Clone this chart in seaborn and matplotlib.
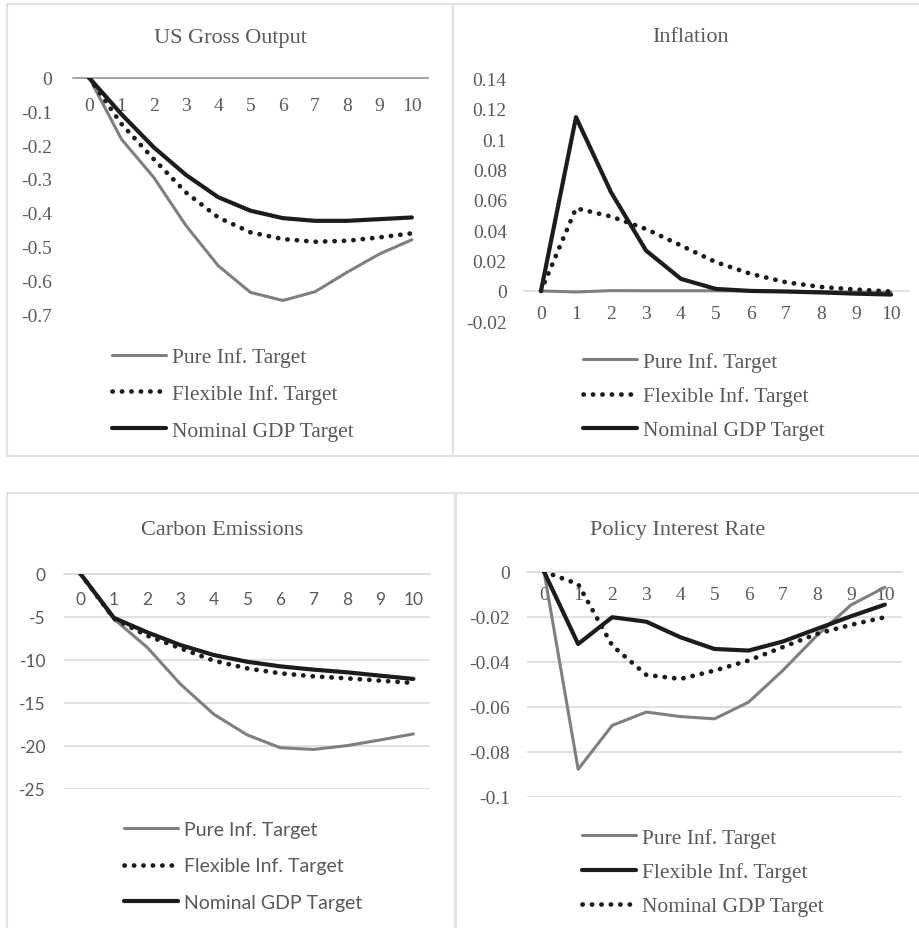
import matplotlib
matplotlib.use("Agg")
import matplotlib.pyplot as plt
from matplotlib.patches import Rectangle
from matplotlib.lines import Line2D
import seaborn as sns

# impulse responses, periods 0..10
steps = list(range(11))
labels3 = ["Pure Inf. Target", "Flexible Inf. Target", "Nominal GDP Target"]

out_pure = [0, -0.182, -0.295, -0.438, -0.557, -0.636, -0.660, -0.634, -0.576, -0.522, -0.480]
out_flex = [0, -0.137, -0.241, -0.340, -0.414, -0.458, -0.478, -0.486, -0.483, -0.473, -0.461]
out_ngdp = [0, -0.108, -0.206, -0.288, -0.354, -0.394, -0.416, -0.424, -0.424, -0.419, -0.414]

infl_pure = [0, -0.0007, 0.0002, 0.0001, 0.0001, 0.0001, 0.0, -0.0002, -0.0005, -0.0008, -0.001]
infl_flex = [0, 0.0544, 0.049, 0.0408, 0.0299, 0.0189, 0.0112, 0.0057, 0.0026, 0.0009, -0.0004]
infl_ngdp = [0, 0.1144, 0.065, 0.0266, 0.0079, 0.0013, 0.0, -0.0004, -0.001, -0.0018, -0.0024]

co2_pure = [0, -5.23, -8.53, -12.8, -16.3, -18.7, -20.2, -20.4, -19.96, -19.3, -18.6]
co2_flex = [0, -5.2, -7.17, -8.64, -10.08, -10.97, -11.55, -11.9, -12.13, -12.4, -12.67]
co2_ngdp = [0, -5.1, -6.78, -8.26, -9.42, -10.2, -10.74, -11.12, -11.43, -11.82, -12.2]

rate_pure = [0, -0.0877, -0.0682, -0.0623, -0.0643, -0.0653, -0.0579, -0.0439, -0.0284, -0.0148, -0.0069]
rate_flex = [0, -0.0321, -0.0202, -0.0222, -0.0291, -0.0343, -0.035, -0.031, -0.0254, -0.0198, -0.0146]
rate_ngdp = [0, -0.0055, -0.0328, -0.0458, -0.0476, -0.0439, -0.0394, -0.0335, -0.0276, -0.0236, -0.0202]

out_ticks = [0, -0.1, -0.2, -0.3, -0.4, -0.5, -0.6, -0.7]
infl_ticks = [-0.02, 0, 0.02, 0.04, 0.06, 0.08, 0.1, 0.12, 0.14]
co2_ticks = [0, -5, -10, -15, -20, -25]
rate_ticks = [0, -0.02, -0.04, -0.06, -0.08, -0.1]

sns.set_style("white")
plt.rcParams["font.family"] = ["Liberation Serif", "DejaVu Serif"]

W, H = 919, 929
fig = plt.figure(figsize=(W / 100, H / 100), dpi=100)

GRAY = "#7f7f7f"
BLACK = "#1c1c1c"
TXT = "#595959"
GRID = "#d9d9d9"
solid_gray = dict(color=GRAY, lw=2.2, linestyle="-")
solid_black = dict(color=BLACK, lw=3.0, linestyle="-")
dotted = dict(color=BLACK, lw=3.4, linestyle=(0, (0.05, 1.95)), dash_capstyle="round")


def box(x0, y0, x1, y1):
    fig.add_artist(Rectangle((x0 / W, 1 - y1 / H), (x1 - x0) / W, (y1 - y0) / H,
                             transform=fig.transFigure, fill=False,
                             edgecolor="#e2e2e2", lw=1.5))


def fmt(v):
    s = f"{round(v, 4):g}"
    return "0" if s == "-0" else s


def panel(left, right, top, bottom, series, styles, ticks, ylim,
          title, title_xy, legend_xy, tick_font, leg_font,
          ypad, xpad, zero_color, grid, tsize=14, lsize=15.5, lspace=0.65, hlen=2.5):
    ax = fig.add_axes([left / W, 1 - bottom / H, (right - left) / W, (bottom - top) / H])
    for vals, st, lab in zip(series, styles, labels3):
        sns.lineplot(x=steps, y=vals, ax=ax, label=lab, **st)
    ax.set_xlim(-0.5, 10.5)
    ax.set_ylim(*ylim)
    ax.set_yticks(ticks)
    ax.set_yticklabels([fmt(t) for t in ticks])
    ax.set_xticks(steps)
    ax.set_xticklabels([str(s) for s in steps])
    for sp in ["top", "left", "right"]:
        ax.spines[sp].set_visible(False)
    ax.spines["bottom"].set_position(("data", 0))
    ax.spines["bottom"].set_color(zero_color)
    ax.spines["bottom"].set_linewidth(1.1)
    ax.spines["bottom"].set_zorder(0.5)
    ax.tick_params(axis="both", length=0, colors=TXT, labelsize=tsize)
    ax.tick_params(axis="y", pad=ypad)
    ax.tick_params(axis="x", pad=xpad)
    for lab in ax.get_xticklabels() + ax.get_yticklabels():
        lab.set_fontfamily(tick_font)
    if grid:
        ax.yaxis.grid(True, color=GRID, lw=1.1)
        ax.set_axisbelow(True)
    ax.set_xlabel("")
    ax.set_ylabel("")
    ax.patch.set_alpha(0)
    handles = [Line2D([], [], **st) for st in styles]
    ax.legend(handles, labels3, loc="center left",
              bbox_to_anchor=(legend_xy[0] / W, 1 - legend_xy[1] / H),
              bbox_transform=fig.transFigure, frameon=False,
              prop={"family": leg_font, "size": lsize},
              labelcolor=TXT, handlelength=hlen, handletextpad=0.3,
              labelspacing=lspace, borderpad=0, borderaxespad=0)
    fig.text(title_xy[0] / W, 1 - title_xy[1] / H, title, ha="center", va="center",
             fontsize=16, color=TXT, fontfamily="Liberation Serif")
    return ax


SERIF = ["Liberation Serif"]
SANS = ["Lato"]

box(6.5, 5, 452.5, 457)
box(453, 5, 930, 457)
box(6.5, 494, 454.5, 940)
box(456, 494, 930, 940)

panel(73, 428, 78.7, 315, [out_pure, out_flex, out_ngdp],
      [solid_gray, dotted, solid_black], out_ticks, (-0.7, 0),
      "US Gross Output", (230, 39), (112, 395), SERIF, SERIF,
      ypad=15, xpad=14, zero_color="#8c8c8c", grid=False, lspace=0.78)

panel(523.5, 908.5, 79.3, 322.3, [infl_pure, infl_flex, infl_ngdp],
      [solid_gray, dotted, solid_black], infl_ticks, (-0.02, 0.14),
      "Inflation", (691, 37), (583, 397), SERIF, SERIF,
      ypad=12, xpad=10, zero_color=GRID, grid=False, lspace=0.66)

panel(64, 430, 575, 790, [co2_pure, co2_flex, co2_ngdp],
      [solid_gray, dotted, solid_black], co2_ticks, (-25, 0),
      "Carbon Emissions", (222, 531), (124, 867), SANS, SANS,
      ypad=13, xpad=12, zero_color=GRID, grid=True, tsize=12.5, lsize=14,
      lspace=1.0, hlen=2.8)

panel(527, 902, 572.7, 798, [rate_pure, rate_flex, rate_ngdp],
      [solid_gray, solid_black, dotted], rate_ticks, (-0.1, 0),
      "Policy Interest Rate", (678, 531), (582, 873), SERIF, SERIF,
      ypad=12, xpad=10, zero_color=GRID, grid=True, lspace=0.66)

fig.savefig("out.png", dpi=100, facecolor="white")
